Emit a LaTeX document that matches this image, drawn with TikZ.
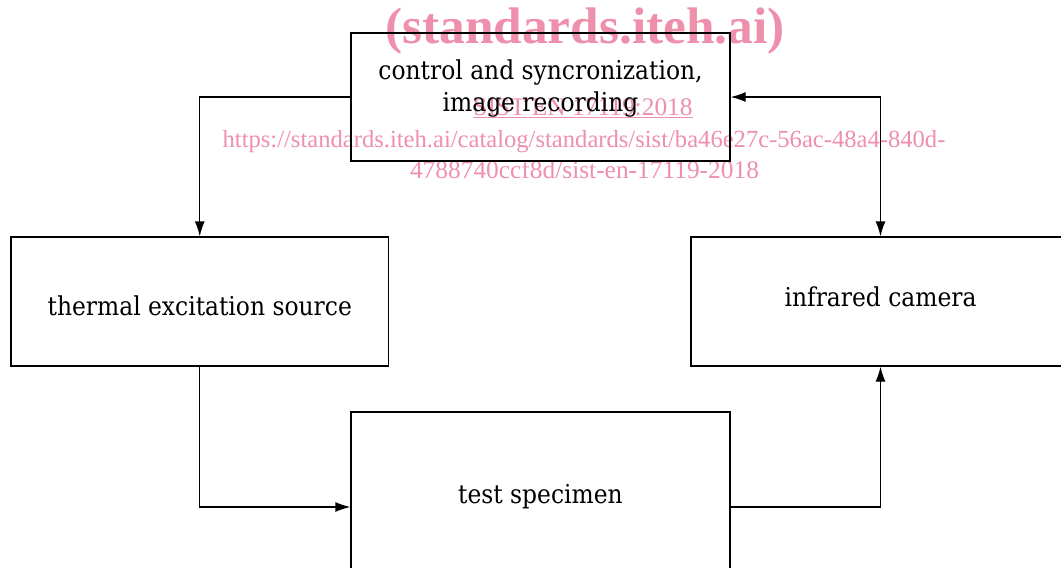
\documentclass[tikz,border=0pt]{standalone}
\usepackage{fontspec}
\usetikzlibrary{arrows.meta}
\newfontfamily\wmfont{Liberation Serif}
\newfontfamily\boxfont{DejaVu Serif Condensed}
\definecolor{wmpink}{RGB}{238,143,172}
\begin{document}
\begin{tikzpicture}[x=1pt,y=-1pt,
  box/.style={draw=black,line width=1.3pt,rectangle,inner sep=0pt},
  lbl/.style={font=\boxfont\fontsize{26}{32}\selectfont,align=center,inner sep=0pt},
  wm/.style={text=wmpink,inner sep=0pt,anchor=base},
  tip/.style={Latex[length=15pt,width=10pt]},
  conn/.style={draw=black,line width=1.3pt,-{Latex[length=15pt,width=10pt]}},
  conn2/.style={draw=black,line width=1.3pt,{Latex[length=15pt,width=10pt]}-{Latex[length=15pt,width=10pt]}}]
\useasboundingbox (0,0) rectangle (1061,568);
\clip (0,0) rectangle (1061,568);
% watermark
\node[wm,font=\wmfont\bfseries\fontsize{51.4}{60}\selectfont] (w1) at (585,43) {(standards.iteh.ai)};
\node[wm,font=\wmfont\fontsize{25.4}{30}\selectfont] (w2) at (583,115) {\underline{SIST EN 17119:2018}};
\node[wm,font=\wmfont\fontsize{24.6}{30}\selectfont] (w3) at (584,147) {https://standards.iteh.ai/catalog/standards/sist/ba46e27c-56ac-48a4-840d-};
\node[wm,font=\wmfont\fontsize{25.4}{30}\selectfont] (w4) at (584.5,178) {4788740ccf8d/sist-en-17119-2018};
% boxes
\node[box,minimum width=379pt,minimum height=128pt,
  label={[lbl,yshift=8pt]center:control and syncronization,\\image recording}] (ctrl) at (540.5,97) {};
\node[box,minimum width=377.5pt,minimum height=129pt,
  label={[lbl,yshift=-4.5pt]center:thermal excitation source}] (src) at (199.75,301.5) {};
\node[box,minimum width=379pt,minimum height=129pt,
  label={[lbl,yshift=4.5pt]center:infrared camera}] (cam) at (880.5,301.5) {};
\node[box,minimum width=379pt,minimum height=190pt,
  label={[lbl,yshift=10pt]center:test specimen}] (spec) at (540.5,507) {};
% connectors
\draw[conn] (ctrl.west) -| (src.north);
\draw[conn2] (ctrl.east) -| (cam.north);
\draw[conn] (src.south) |- (spec.west);
\draw[conn] (spec.east) -| (cam.south);
\end{tikzpicture}
\end{document}
